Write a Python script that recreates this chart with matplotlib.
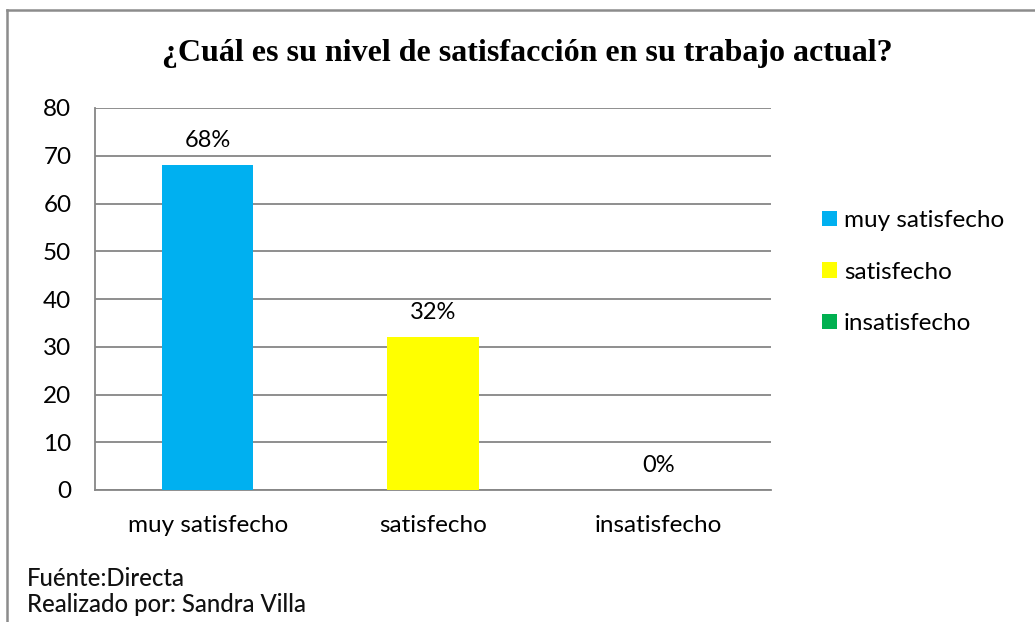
import matplotlib
matplotlib.use("Agg")
import matplotlib.pyplot as plt
from matplotlib.lines import Line2D
from matplotlib.patches import Patch

categorias = ["muy satisfecho", "satisfecho", "insatisfecho"]
valores = [68, 32, 0]
etiquetas = ["68%", "32%", "0%"]
colores = ["#00B0F0", "#FFFF00", "#00B050"]
yticks = [0, 10, 20, 30, 40, 50, 60, 70, 80]

W, H = 1035, 622
fig = plt.figure(figsize=(W / 100, H / 100), dpi=100)
plt.rcParams['font.family'] = ['Lato', 'DejaVu Sans']

ax = fig.add_axes([95 / W, 1 - 490 / H, 676 / W, 382 / H])
x = range(len(categorias))
ax.bar(x, valores, width=0.404, color=colores, zorder=3)
for i, v in enumerate(valores):
    ax.annotate(etiquetas[i], (i, v), xytext=(0, 17.5), textcoords="offset points",
                ha="center", va="center", fontsize=17, color="#000000")

ax.set_xlim(-0.5, 2.5)
ax.set_ylim(0, 80)
ax.set_yticks(yticks)
ax.set_xticks(list(x))
ax.set_xticklabels(categorias)
ax.tick_params(axis="both", length=0, labelsize=17.5, colors="#000000")
ax.tick_params(axis="y", pad=17)
ax.tick_params(axis="x", pad=18)
ax.grid(axis="y", color="#868686", linewidth=1.3, zorder=0)
for s in ["top", "right"]:
    ax.spines[s].set_visible(False)
for s in ["left", "bottom"]:
    ax.spines[s].set_color("#868686")
    ax.spines[s].set_linewidth(1.3)

fig.text(527 / W, 1 - 53 / H, "¿Cuál es su nivel de satisfacción en su trabajo actual?",
         family="Liberation Serif", fontweight="bold", fontsize=23,
         ha="center", va="center")

handles = [Patch(facecolor=c, edgecolor="none") for c in colores]
fig.legend(handles, categorias, loc="center left", bbox_to_anchor=(822 / W, 1 - 272 / H),
           frameon=False, fontsize=17.5, handlelength=0.6, handleheight=0.6,
           handletextpad=0.3, labelspacing=1.25, borderaxespad=0, borderpad=0)

fig.text(27 / W, 1 - 578 / H, "Fuénte:Directa", fontsize=17.2, color="#111111",
         fontweight="medium", va="center")
fig.text(27 / W, 1 - 605 / H, "Realizado por: Sandra Villa", fontsize=17.2, color="#111111",
         fontweight="medium", va="center")

# marco del grafico
fig.add_artist(Line2D([7 / W, 1], [1 - 10 / H, 1 - 10 / H], color="#8c8c8c", linewidth=1.8))
fig.add_artist(Line2D([7 / W, 7 / W], [1 - 10 / H, 0], color="#8c8c8c", linewidth=1.8))

fig.savefig("out.png", dpi=100)
